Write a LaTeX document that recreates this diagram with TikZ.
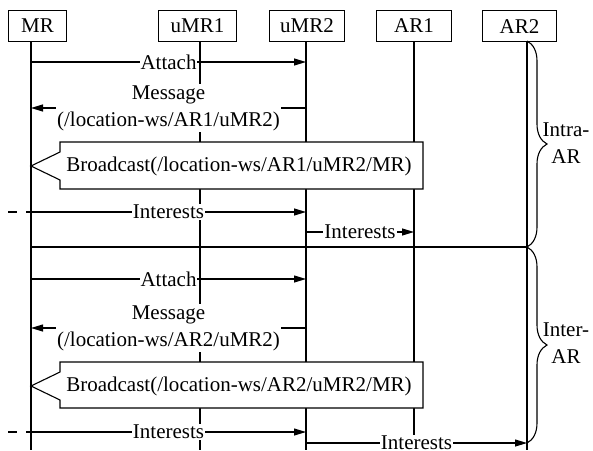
\documentclass[tikz,border=0pt]{standalone}
\usepackage{fontspec}
\setmainfont{Liberation Serif}
\usetikzlibrary{arrows.meta,decorations.pathreplacing}

\begin{document}
\begin{tikzpicture}[x=1pt,y=-1pt,line width=1.1pt,
    font=\fontsize{21}{27}\selectfont,
    head/.style={draw,minimum height=31pt,inner sep=0pt,anchor=north west},
    msg/.style={-{Triangle[length=12pt,width=7pt]}},
    lbl/.style={fill=white,inner sep=1pt,align=center},
    bcast/.style={draw,fill=white},
    grp/.style={decorate,decoration={brace,amplitude=20pt}}]
  \useasboundingbox (0,0) rectangle (593,450);

  \node[head,minimum width=58pt] (mrh)   at (8,10)   {MR};
  \node[head,minimum width=78pt] (umr1h) at (158,10) {uMR1};
  \node[head,minimum width=75pt] (umr2h) at (269,10) {uMR2};
  \node[head,minimum width=75pt] (ar1h)  at (376,10) {AR1};
  \node[head,minimum width=74pt] (ar2h)  at (482,10) {AR2};

  \coordinate (mr)   at (31,41);
  \coordinate (umr1) at (200,41);
  \coordinate (umr2) at (306,41);
  \coordinate (ar1)  at (414,41);
  \coordinate (ar2)  at (527,41);
  \coordinate (bot)  at (0,450);
  \foreach \n in {mr,umr1,umr2,ar1,ar2}
    \draw (\n) -- (\n |- bot);

  \coordinate (at1) at (0,62);
  \coordinate (ms1) at (0,108);
  \coordinate (bc1) at (0,166);
  \coordinate (in1) at (0,212);
  \coordinate (in2) at (0,232);
  \coordinate (sep) at (0,247);
  \coordinate (at2) at (0,279);
  \coordinate (ms2) at (0,328);
  \coordinate (bc2) at (0,386);
  \coordinate (in3) at (0,432);
  \coordinate (in4) at (0,443);
  \coordinate (d1)  at (8,212);
  \coordinate (d2)  at (8,432);

  \draw[msg] (mr |- at1) -- node[lbl] (att1) {Attach} (umr2 |- at1);
  \draw[msg] (umr2 |- ms1) -- node[lbl] (msg1) {Message\\(/location-ws/AR1/uMR2)} (mr |- ms1);
  \draw[bcast] (mr |- bc1) -- ++(29,-14) -- ++(0,-10) -- ++(363,0) -- ++(0,47)
    -- ++(-363,0) -- ++(0,-9) -- cycle;
  \node (bct1) at (239,166) {Broadcast(/location-ws/AR1/uMR2/MR)};
  \draw[dash pattern=on 9pt off 9pt] (d1) -- (mr |- in1);
  \draw[msg] (mr |- in1) -- node[lbl] (int1) {Interests} (umr2 |- in1);
  \draw[msg] (umr2 |- in2) -- node[lbl] (int2) {Interests} (ar1 |- in2);
  \draw (mr |- sep) -- (ar2 |- sep);

  \draw[msg] (mr |- at2) -- node[lbl] (att2) {Attach} (umr2 |- at2);
  \draw[msg] (umr2 |- ms2) -- node[lbl] (msg2) {Message\\(/location-ws/AR2/uMR2)} (mr |- ms2);
  \draw[bcast] (mr |- bc2) -- ++(29,-14) -- ++(0,-10) -- ++(363,0) -- ++(0,46)
    -- ++(-363,0) -- ++(0,-8) -- cycle;
  \node (bct2) at (239,386) {Broadcast(/location-ws/AR2/uMR2/MR)};
  \draw[dash pattern=on 9pt off 9pt] (d2) -- (mr |- in3);
  \draw[msg] (mr |- in3) -- node[lbl] (int3) {Interests} (umr2 |- in3);
  \draw[msg] (umr2 |- in4) -- node[lbl] (int4) {Interests} (ar2 |- in4);

  \draw[grp] (ar2) -- (ar2 |- sep);
  \draw[grp] (ar2 |- sep) -- (ar2 |- in4);
  \node[align=center] (intra) at (566,143) {Intra-\\AR};
  \node[align=center] (inter) at (566,343) {Inter-\\AR};
\end{tikzpicture}
\end{document}
